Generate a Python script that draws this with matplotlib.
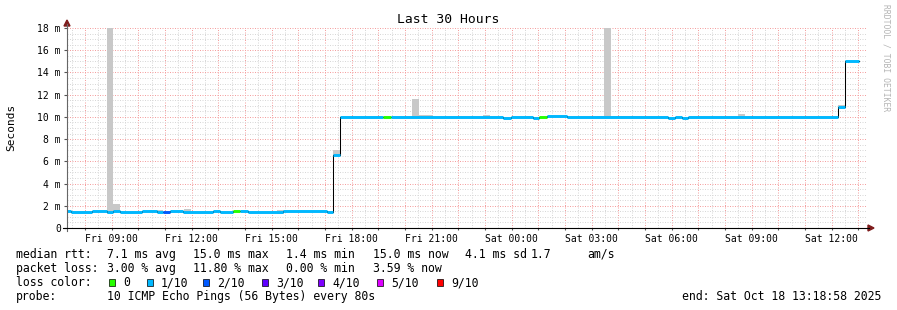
import numpy as np
import matplotlib
matplotlib.use("Agg")
import matplotlib.pyplot as plt
from matplotlib.patches import Rectangle, Polygon
from matplotlib.lines import Line2D

W, H = 897, 310

# median rtt, step edges in hours since Fri 00:00, values in ms
med_edges = [7.32, 7.47, 8.26, 8.82, 9.05, 9.31, 10.13, 10.70, 10.92, 11.18, 11.67,
             12.80, 13.06, 13.55, 13.81, 14.11, 15.42, 17.07, 17.30, 17.56, 19.17,
             19.47, 23.67, 23.97, 24.80, 25.02, 25.32, 26.07, 29.86, 30.12, 30.38,
             30.61, 36.23, 36.50, 37.02]
med_vals = [1.5, 1.4, 1.5, 1.4, 1.5, 1.4, 1.5, 1.45, 1.4, 1.5, 1.4, 1.5, 1.4, 1.5,
            1.5, 1.4, 1.5, 1.4, 6.6, 10.0, 10.0, 10.0, 9.9, 10.0, 9.9, 9.95, 10.05,
            10.0, 9.9, 10.0, 9.9, 10.0, 10.85, 15.0]
# loss bucket per segment (0 -> "0", 1 -> "1/10", 2 -> "2/10")
med_loss = [1, 1, 1, 1, 1, 1, 1, 1, 2, 1, 1, 1, 1, 0, 1, 1, 1, 1, 1, 1, 0, 1, 1, 1,
            1, 0, 1, 1, 1, 1, 1, 1, 1, 1]

# smoke (max ping) where it shows above the median
smoke_start = [8.82, 9.05, 10.40, 11.71, 15.20, 17.30, 20.26, 20.52, 22.92, 24.57,
               27.20, 27.45, 27.72, 32.48, 36.23]
smoke_end = [9.05, 9.31, 10.92, 11.97, 15.46, 17.56, 20.52, 21.05, 23.18, 24.80,
             27.45, 27.72, 28.81, 32.75, 36.50]
smoke_top = [18.0, 2.2, 1.65, 1.75, 1.65, 7.0, 11.6, 10.15, 10.15, 10.1, 10.1, 18.0,
             10.1, 10.3, 11.1]

loss_labels = ["0", "1/10", "2/10", "3/10", "4/10", "5/10", "9/10"]
loss_colors = ["#26ff00", "#00b8ff", "#0059ff", "#5e00ff", "#7e00ff", "#dd00ff", "#ff0000"]

xtick_hours = [9, 12, 15, 18, 21, 24, 27, 30, 33, 36]
xtick_labels = ["Fri 09:00", "Fri 12:00", "Fri 15:00", "Fri 18:00", "Fri 21:00",
                "Sat 00:00", "Sat 03:00", "Sat 06:00", "Sat 09:00", "Sat 12:00"]
ytick_vals = [0, 2, 4, 6, 8, 10, 12, 14, 16, 18]
ytick_labels = ["0"] + ["%d m" % v for v in ytick_vals[1:]]

mono = "DejaVu Sans Mono"


def fx(x):
    return x / W


def fy(y):
    return 1 - y / H


fig = plt.figure(figsize=(W / 100, H / 100), dpi=100)
fig.patch.set_facecolor("white")
ax = fig.add_axes([fx(67), fy(228), 800 / W, 200 / H])
ax.set_xlim(7.32, 37.32)
ax.set_ylim(0, 18)
for s in ax.spines.values():
    s.set_visible(False)

# grid
ax.set_xticks(np.arange(8, 38, 1))
ax.set_xticks(np.arange(7.5, 37.5, 1), minor=True)
ax.set_yticks(ytick_vals)
ax.set_yticks(np.arange(0, 18.01, 0.5), minor=True)
ax.set_axisbelow(True)
ax.grid(which="minor", color="#d8d8d8", lw=0.72, ls=(0, (1, 1.5)))
ax.grid(which="major", color="#f4a0a0", lw=0.72, ls=(0, (1, 1.5)))
ax.tick_params(which="minor", length=0)
ax.tick_params(axis="y", which="major", length=2.2, pad=2.2, color="#555555",
               labelsize=7, labelfontfamily=mono)
ax.tick_params(axis="x", which="major", length=1.6, pad=2.5, color="#555555",
               labelsize=7, labelfontfamily=mono)
ax.set_yticklabels(ytick_labels)
ax.set_xticklabels([xtick_labels[xtick_hours.index(h)] if h in xtick_hours else ""
                    for h in range(8, 38)])

# smoke
med_e = np.array(med_edges)
med_v = np.array(med_vals)
for s0, s1, top in zip(smoke_start, smoke_end, smoke_top):
    i = np.searchsorted(med_e, (s0 + s1) / 2) - 1
    base = med_v[i] - 0.1
    ax.bar(s0, top - base, width=s1 - s0, bottom=base, align="edge",
           color="#c8c8c8", lw=0, zorder=2)

# median line
ax.step(med_edges, list(med_vals) + [med_vals[-1]], where="post", color="black",
        lw=0.75, zorder=3)
ax.hlines(med_vals, med_edges[:-1], med_edges[1:],
          colors=[loss_colors[k] for k in med_loss], lw=2.1, capstyle="butt", zorder=4)

# axis lines with arrows
fig.add_artist(Line2D([fx(67), fx(67)], [fy(231), fy(24)], color="#666666", lw=0.8))
fig.add_artist(Line2D([fx(63), fx(869)], [fy(228), fy(228)], color="black", lw=0.8))
fig.add_artist(Polygon([(fx(64), fy(26)), (fx(70), fy(26)), (fx(67), fy(20))],
                       closed=True, color="#7f1d1d"))
fig.add_artist(Polygon([(fx(868), fy(225)), (fx(868), fy(231)), (fx(874), fy(228))],
                       closed=True, color="#7f1d1d"))

# texts
fig.text(fx(448), fy(19.5), "Last 30 Hours", family=mono, size=9.4,
         ha="center", va="center")
fig.text(fx(11), fy(127), "Seconds", family=mono, size=8, rotation=90,
         ha="center", va="center")
fig.text(fx(886), fy(4), "RRDTOOL / TOBI OETIKER", family=mono, size=5.8,
         rotation=270, color="#b4b4b4", ha="center", va="top")

fs = 8.3
line1 = [(16, "median rtt:"), (107, "7.1 ms avg"), (193, "15.0 ms max"),
         (286, "1.4 ms min"), (373, "15.0 ms now"), (465, "4.1 ms sd"),
         (531, "1.7"), (587, "am/s")]
line2 = [(16, "packet loss:"), (107, "3.00 % avg"), (193, "11.80 % max"),
         (286, "0.00 % min"), (373, "3.59 % now")]
for x, t in line1:
    fig.text(fx(x), fy(254.3), t, family=mono, size=fs, va="center")
for x, t in line2:
    fig.text(fx(x), fy(268.3), t, family=mono, size=fs, va="center")

fig.text(fx(16), fy(282.7), "loss color:", family=mono, size=fs, va="center")
box_x = [109, 147, 203, 262, 318, 377, 437]
for bx, lab, col in zip(box_x, loss_labels, loss_colors):
    fig.add_artist(Rectangle((fx(bx), fy(286)), 6 / W, 7 / H, facecolor=col,
                             edgecolor="black", lw=0.5))
    fig.text(fx(bx + 14), fy(282.7), lab, family=mono, size=fs, va="center")

fig.text(fx(16), fy(296.7), "probe:", family=mono, size=fs, va="center")
fig.text(fx(107), fy(296.7), "10 ICMP Echo Pings (56 Bytes) every 80s", family=mono,
         size=fs, va="center")
fig.text(fx(881), fy(296.7), "end: Sat Oct 18 13:18:58 2025", family=mono, size=fs,
         ha="right", va="center")

fig.savefig("out.png", dpi=100)
